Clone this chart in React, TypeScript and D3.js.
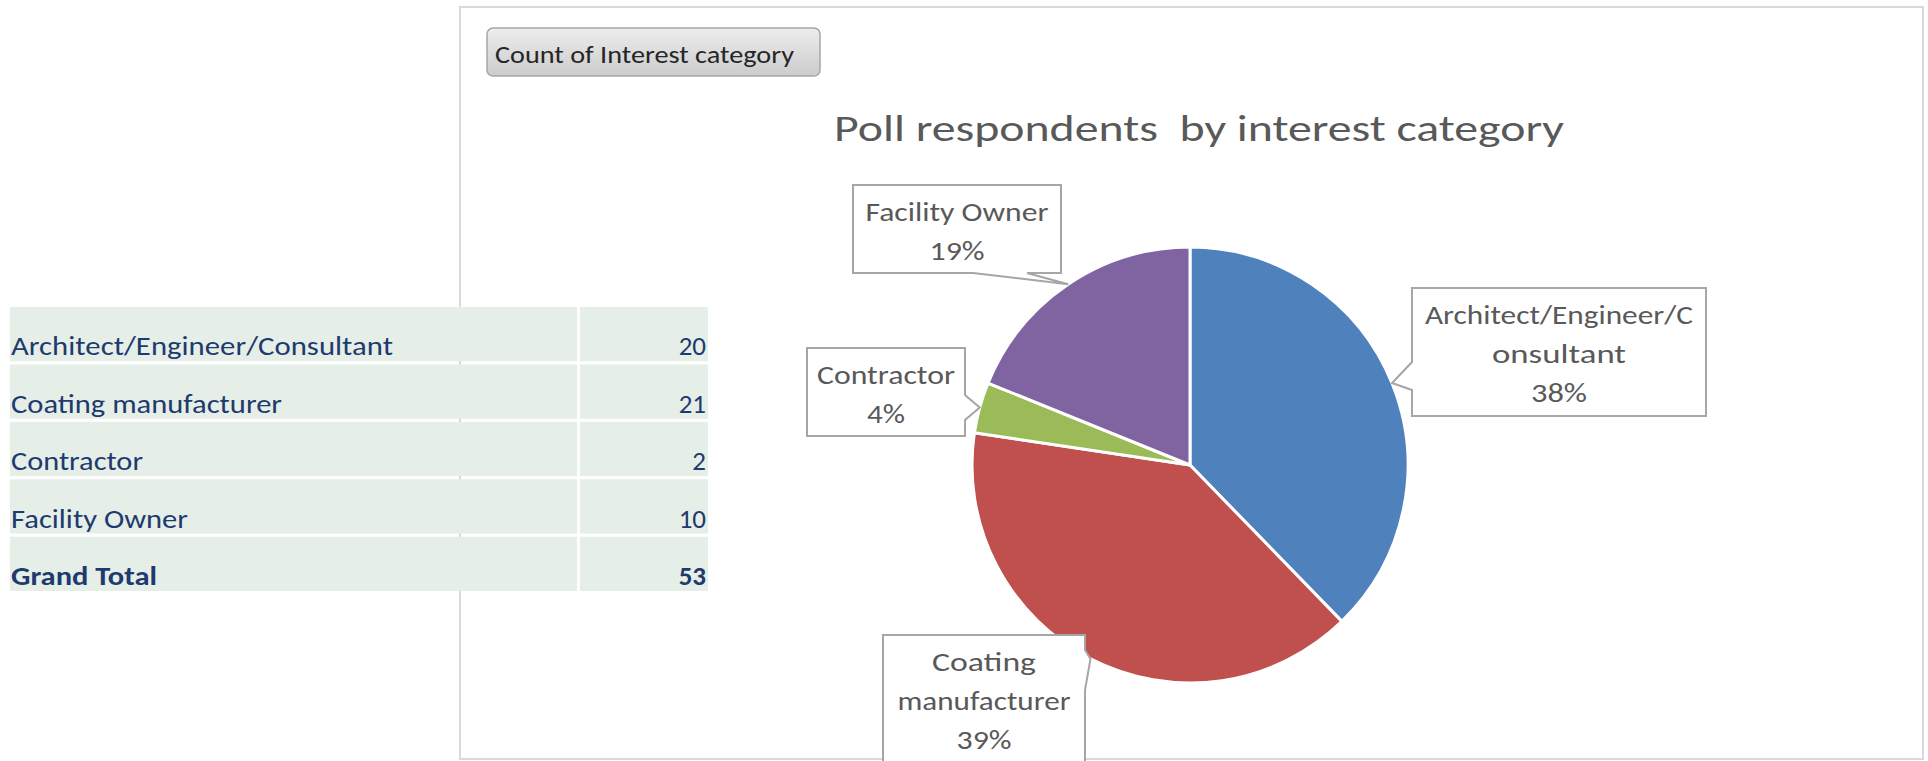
import React from "react";
import * as d3 from "d3";

// ---------- data ----------
const categories = [
  "Architect/Engineer/Consultant",
  "Coating manufacturer",
  "Contractor",
  "Facility Owner",
];
const counts = [20, 21, 2, 10];
const totalLabel = "Grand Total";
const sliceColors = ["#4F81BD", "#C0504D", "#9BBB59", "#8064A2"];
// wrapped callout label lines, as shown in the chart
const calloutLines = [
  ["Architect/Engineer/C", "onsultant"],
  ["Coating", "manufacturer"],
  ["Contractor"],
  ["Facility Owner"],
];
const chartTitle = "Poll respondents  by interest category";
const fieldButtonText = "Count of Interest category";

// ---------- layout (positions / styles only) ----------
const W = 1928;
const H = 761;
const FONT = "Carlito, Calibri, Lato, 'Open Sans', sans-serif";
const pieCx = 1190;
const pieCy = 465;
const pieR = 218;

// callout boxes: x, y, w, h, side of tail, tail base (two coords along that side), text widths per line
const calloutBoxes = [
  { x: 1412, y: 288, w: 294, h: 128, side: "left", b0: 362, b1: 390, widths: [268, 134, 56] },
  { x: 883, y: 635, w: 202, h: 128, side: "right", b0: 650, b1: 690, widths: [104, 173, 55] },
  { x: 807, y: 348, w: 158, h: 88, side: "right", b0: 395, b1: 420, widths: [138, 38] },
  { x: 853, y: 185, w: 208, h: 88, side: "bottom", b0: 973, b1: 1027, widths: [183, 55] },
];

// Excel-style percentages (largest remainder so they add up to 100)
function percentLabels(values: number[]): string[] {
  const total = d3.sum(values);
  const raw = values.map((v) => (v / total) * 100);
  const fl = raw.map((v) => Math.floor(v));
  let remaining = 100 - d3.sum(fl);
  const order = raw
    .map((v, i) => ({ i, r: v - Math.floor(v) }))
    .sort((a, b) => b.r - a.r);
  for (const o of order) {
    if (remaining <= 0) break;
    fl[o.i] += 1;
    remaining -= 1;
  }
  return fl.map((v) => `${v}%`);
}

function calloutPath(b: any, tip: [number, number]): string {
  const { x, y, w, h, side, b0, b1 } = b;
  const [tx, ty] = tip;
  const p = d3.path();
  if (side === "left") {
    p.moveTo(x, y);
    p.lineTo(x + w, y);
    p.lineTo(x + w, y + h);
    p.lineTo(x, y + h);
    p.lineTo(x, b1);
    p.lineTo(tx, ty);
    p.lineTo(x, b0);
    p.closePath();
  } else if (side === "right") {
    p.moveTo(x, y);
    p.lineTo(x + w, y);
    p.lineTo(x + w, b0);
    p.lineTo(tx, ty);
    p.lineTo(x + w, b1);
    p.lineTo(x + w, y + h);
    p.lineTo(x, y + h);
    p.closePath();
  } else {
    p.moveTo(x, y);
    p.lineTo(x + w, y);
    p.lineTo(x + w, y + h);
    p.lineTo(b1, y + h);
    p.lineTo(tx, ty);
    p.lineTo(b0, y + h);
    p.lineTo(x, y + h);
    p.closePath();
  }
  return p.toString();
}

export default function App() {
  const pie = d3.pie<number>().sort(null).value((d) => d);
  const arcs = pie(counts);
  const arcGen = d3.arc<d3.PieArcDatum<number>>().innerRadius(0).outerRadius(pieR);
  const pcts = percentLabels(counts);
  const total = d3.sum(counts);

  // table
  const tableRows = [
    ...categories.map((c, i) => ({ label: c, value: counts[i], bold: false })),
    { label: totalLabel, value: total, bold: true },
  ];
  const rowY = d3.scaleBand<number>().domain(d3.range(tableRows.length)).range([307, 591]).paddingInner(0.055);
  const tableTextWidths = [382, 271, 132, 177, 146];

  return (
    <svg
      width={W}
      height={H}
      style={{ position: "absolute", left: 0, top: 0, background: "#fff" }}
      fontFamily={FONT}
    >
      <defs>
        <linearGradient id="btnGrad" x1="0" y1="0" x2="0" y2="1">
          <stop offset="0%" stopColor="#EDEDED" />
          <stop offset="100%" stopColor="#CCCCCC" />
        </linearGradient>
      </defs>

      {/* chart area border */}
      <rect x={460} y={7} width={1463} height={752} fill="#fff" stroke="#D9D9D9" strokeWidth={2} />

      {/* field button */}
      <rect x={487} y={28} width={333} height={48} rx={6} ry={6} fill="url(#btnGrad)" stroke="#A6A6A6" strokeWidth={1.5} />
      <text x={495} y={63} fontSize={25} fill="#262626" textLength={299} lengthAdjust="spacingAndGlyphs">
        {fieldButtonText}
      </text>

      {/* title */}
      <text
        x={834}
        y={141}
        fontSize={37}
        fill="#595959"
        textLength={730}
        lengthAdjust="spacingAndGlyphs"
        style={{ whiteSpace: "pre" }}
      >
        {chartTitle}
      </text>

      {/* pie */}
      <g transform={`translate(${pieCx},${pieCy})`}>
        {arcs.map((a, i) => (
          <path key={i} d={arcGen(a) as string} fill={sliceColors[i]} stroke="#fff" strokeWidth={3} strokeLinejoin="round" />
        ))}
      </g>

      {/* callouts */}
      {arcs.map((a, i) => {
        const mid = (a.startAngle + a.endAngle) / 2;
        const tip: [number, number] = [pieCx + pieR * Math.sin(mid), pieCy - pieR * Math.cos(mid)];
        const b = calloutBoxes[i];
        const lines = [...calloutLines[i], pcts[i]];
        const cx = b.x + b.w / 2;
        return (
          <g key={`c${i}`}>
            <path d={calloutPath(b, tip)} fill="#fff" stroke="#A6A6A6" strokeWidth={2} strokeLinejoin="miter" />
            {lines.map((ln, j) => (
              <text
                key={j}
                x={cx}
                y={b.y + 36 + j * 39}
                textAnchor="middle"
                fontSize={27}
                fill="#595959"
                textLength={b.widths[j]}
                lengthAdjust="spacingAndGlyphs"
              >
                {ln}
              </text>
            ))}
          </g>
        );
      })}

      {/* pivot table (drawn over the chart border) */}
      {tableRows.map((r, i) => {
        const y0 = rowY(i) as number;
        const h = rowY.bandwidth();
        return (
          <g key={`r${i}`}>
            <rect x={10} y={y0} width={567} height={h} fill="#E5EFE7" />
            <rect x={580} y={y0} width={128} height={h} fill="#E5EFE7" />
            <text
              x={11}
              y={y0 + h - 6}
              fontSize={27}
              fontWeight={r.bold ? 700 : 400}
              fill="#1F3A6E"
              textLength={tableTextWidths[i]}
              lengthAdjust="spacingAndGlyphs"
            >
              {r.label}
            </text>
            <text
              x={706}
              y={y0 + h - 6}
              fontSize={27}
              fontWeight={r.bold ? 700 : 400}
              fill="#1F3A6E"
              textAnchor="end"
            >
              {r.value}
            </text>
          </g>
        );
      })}
    </svg>
  );
}
